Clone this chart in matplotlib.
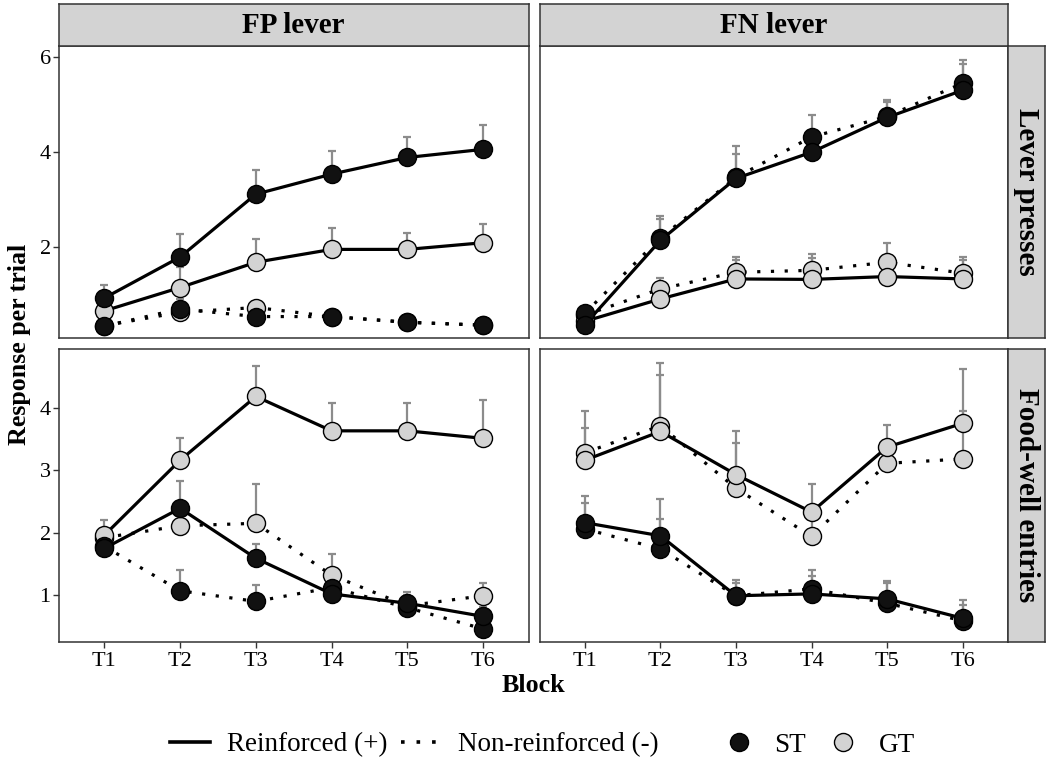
import numpy as np
import matplotlib
matplotlib.use("Agg")
import matplotlib.pyplot as plt
from matplotlib.lines import Line2D

plt.rcParams['font.family'] = ['Liberation Serif', 'DejaVu Serif']

blocks = ["T1", "T2", "T3", "T4", "T5", "T6"]
levers = ["FP lever", "FN lever"]
measures = ["Lever presses", "Food-well entries"]

# FP lever, lever presses
fp_lp_st_pos = [0.94, 1.80, 3.12, 3.54, 3.89, 4.06]
fp_lp_st_pos_se = [0.28, 0.49, 0.51, 0.48, 0.43, 0.51]
fp_lp_st_neg = [0.35, 0.71, 0.55, 0.55, 0.43, 0.37]
fp_lp_st_neg_se = [0.05, 0.20, 0.08, 0.08, 0.05, 0.04]
fp_lp_gt_pos = [0.67, 1.16, 1.69, 1.96, 1.96, 2.10]
fp_lp_gt_pos_se = [0.20, 0.44, 0.49, 0.45, 0.34, 0.40]
fp_lp_gt_neg = [0.36, 0.64, 0.74, 0.55, 0.43, 0.37]
fp_lp_gt_neg_se = [0.05, 0.12, 0.10, 0.10, 0.06, 0.05]

# FN lever, lever presses
fn_lp_st_pos = [0.38, 2.15, 3.45, 4.00, 4.73, 5.30]
fn_lp_st_pos_se = [0.10, 0.52, 0.68, 0.30, 0.36, 0.55]
fn_lp_st_neg = [0.62, 2.20, 3.47, 4.32, 4.75, 5.45]
fn_lp_st_neg_se = [0.10, 0.40, 0.50, 0.46, 0.30, 0.49]
fn_lp_gt_pos = [0.45, 0.92, 1.34, 1.33, 1.39, 1.34]
fn_lp_gt_pos_se = [0.10, 0.20, 0.40, 0.45, 0.25, 0.39]
fn_lp_gt_neg = [0.58, 1.13, 1.48, 1.52, 1.69, 1.46]
fn_lp_gt_neg_se = [0.10, 0.23, 0.32, 0.35, 0.40, 0.34]

# FP lever, food-well entries
fp_fw_st_pos = [1.75, 2.39, 1.59, 1.02, 0.87, 0.66]
fp_fw_st_pos_se = [0.10, 0.44, 0.23, 0.15, 0.12, 0.15]
fp_fw_st_neg = [1.78, 1.07, 0.90, 1.12, 0.80, 0.46]
fp_fw_st_neg_se = [0.10, 0.33, 0.26, 0.12, 0.20, 0.10]
fp_fw_gt_pos = [1.96, 3.16, 4.18, 3.63, 3.63, 3.51]
fp_fw_gt_pos_se = [0.24, 0.36, 0.48, 0.45, 0.45, 0.62]
fp_fw_gt_neg = [1.92, 2.11, 2.15, 1.32, 0.83, 0.99]
fp_fw_gt_neg_se = [0.15, 0.20, 0.63, 0.34, 0.22, 0.20]

# FN lever, food-well entries
fn_fw_st_pos = [2.16, 1.95, 0.99, 1.02, 0.94, 0.63]
fn_fw_st_pos_se = [0.42, 0.59, 0.26, 0.29, 0.28, 0.30]
fn_fw_st_neg = [2.06, 1.74, 0.99, 1.10, 0.87, 0.59]
fn_fw_st_neg_se = [0.41, 0.48, 0.20, 0.30, 0.32, 0.25]
fn_fw_gt_pos = [3.16, 3.62, 2.93, 2.33, 3.37, 3.75]
fn_fw_gt_pos_se = [0.78, 1.10, 0.70, 0.45, 0.35, 0.87]
fn_fw_gt_neg = [3.28, 3.71, 2.71, 1.94, 3.11, 3.18]
fn_fw_gt_neg_se = [0.40, 0.82, 0.72, 0.30, 0.30, 0.76]

panels = {
    (0, 0): [(fp_lp_gt_neg, fp_lp_gt_neg_se, "GT", "-"), (fp_lp_gt_pos, fp_lp_gt_pos_se, "GT", "+"),
             (fp_lp_st_neg, fp_lp_st_neg_se, "ST", "-"), (fp_lp_st_pos, fp_lp_st_pos_se, "ST", "+")],
    (0, 1): [(fn_lp_gt_neg, fn_lp_gt_neg_se, "GT", "-"), (fn_lp_gt_pos, fn_lp_gt_pos_se, "GT", "+"),
             (fn_lp_st_neg, fn_lp_st_neg_se, "ST", "-"), (fn_lp_st_pos, fn_lp_st_pos_se, "ST", "+")],
    (1, 0): [(fp_fw_gt_neg, fp_fw_gt_neg_se, "GT", "-"), (fp_fw_gt_pos, fp_fw_gt_pos_se, "GT", "+"),
             (fp_fw_st_neg, fp_fw_st_neg_se, "ST", "-"), (fp_fw_st_pos, fp_fw_st_pos_se, "ST", "+")],
    (1, 1): [(fn_fw_gt_neg, fn_fw_gt_neg_se, "GT", "-"), (fn_fw_gt_pos, fn_fw_gt_pos_se, "GT", "+"),
             (fn_fw_st_neg, fn_fw_st_neg_se, "ST", "-"), (fn_fw_st_pos, fn_fw_st_pos_se, "ST", "+")],
}

fill = {"ST": "#111111", "GT": "#d3d3d3"}
dotted = (0, (1, 3.3))
style = {"+": "-", "-": dotted}
ylims = [(0.10, 6.23), (0.25, 4.94)]
yticks = [[2, 4, 6], [1, 2, 3, 4]]

W, H = 1046, 767
fig = plt.figure(figsize=(W / 100, H / 100), dpi=100)


def px_axes(x0, y0, x1, y1):
    return fig.add_axes([x0 / W, 1 - y1 / H, (x1 - x0) / W, (y1 - y0) / H])


col_x = [(59, 528.5), (539.5, 1008)]
row_y = [(46, 338), (349, 642)]
border = "#333333"
x = np.arange(1, 7)

for (r, c), series in panels.items():
    ax = px_axes(col_x[c][0], row_y[r][0], col_x[c][1], row_y[r][1])
    for mean, se, grp, rf in series:
        ax.errorbar(x, mean, yerr=[np.zeros(6), se], fmt="none", ecolor="#8c8c8c",
                    elinewidth=1.6, capsize=3, capthick=1.6, zorder=1)
    for mean, se, grp, rf in series:
        ax.plot(x, mean, color="black", lw=2.3, linestyle=style[rf],
                dash_capstyle="butt", zorder=2)
    for mean, se, grp, rf in series:
        ax.plot(x, mean, linestyle="none", marker="o", markersize=13,
                markerfacecolor=fill[grp], markeredgecolor="black",
                markeredgewidth=1.0, zorder=3)
    ax.set_xlim(0.4, 6.6)
    ax.set_ylim(*ylims[r])
    ax.set_yticks(yticks[r])
    ax.set_xticks(x)
    ax.set_xticklabels(blocks)
    for s in ax.spines.values():
        s.set_color(border)
        s.set_linewidth(1.1)
    ax.tick_params(length=4, width=1.0, color=border, labelsize=16, pad=3)
    ax.tick_params(axis="y", labelsize=16, pad=2)
    if r == 0:
        ax.tick_params(axis="x", bottom=False, labelbottom=False)
    if c == 1:
        ax.tick_params(axis="y", left=False, labelleft=False)

# column strips
for c, name in enumerate(levers):
    sa = px_axes(col_x[c][0], 4, col_x[c][1], 46)
    sa.set_facecolor("#d3d3d3")
    sa.set_xticks([])
    sa.set_yticks([])
    for s in sa.spines.values():
        s.set_color(border)
        s.set_linewidth(1.1)
    sa.text(0.5, 0.48, name, ha="center", va="center", fontsize=21,
            fontweight="bold", transform=sa.transAxes)

# row strips
for r, name in enumerate(measures):
    sa = px_axes(1008, row_y[r][0], 1045, row_y[r][1])
    sa.set_facecolor("#d3d3d3")
    sa.set_xticks([])
    sa.set_yticks([])
    for s in sa.spines.values():
        s.set_color(border)
        s.set_linewidth(1.1)
    sa.text(0.5, 0.5, name, ha="center", va="center", fontsize=21,
            fontweight="bold", rotation=-90, transform=sa.transAxes)

fig.text(20 / W, 1 - 344 / H, "Response per trial", rotation=90, ha="center",
         va="center", fontsize=18.7, fontweight="bold")
fig.text(533 / W, 1 - 686 / H, "Block", ha="center", va="center",
         fontsize=18.7, fontweight="bold")

line_handles = [Line2D([], [], color="black", lw=2.6, linestyle="-"),
                Line2D([], [], color="black", lw=2.6, linestyle=dotted, dash_capstyle="butt")]
leg1 = fig.legend(line_handles, ["Reinforced (+)", "Non-reinforced (-)"],
                  loc="center", bbox_to_anchor=(414 / W, 1 - 745 / H), ncol=2,
                  frameon=False, fontsize=19.5, handlelength=1.5,
                  handletextpad=0.6, columnspacing=0.5)
pt_handles = [Line2D([], [], linestyle="none", marker="o", markersize=13,
                     markerfacecolor=fill[g], markeredgecolor="black", markeredgewidth=1.0)
              for g in ["ST", "GT"]]
leg2 = fig.legend(pt_handles, ["ST", "GT"], loc="center",
                  bbox_to_anchor=(820 / W, 1 - 745 / H), ncol=2, frameon=False,
                  fontsize=19.5, handlelength=1.0, handletextpad=0.8,
                  columnspacing=0.9)

fig.savefig("out.png", dpi=100)
